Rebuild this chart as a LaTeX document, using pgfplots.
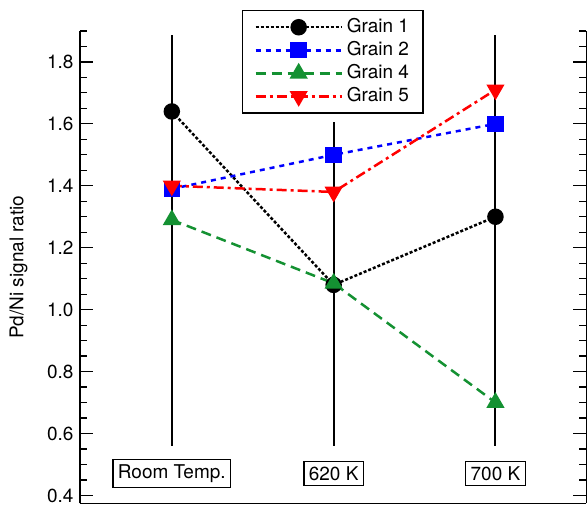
\documentclass[border=0pt]{standalone}
\usepackage{fontspec}
\setmainfont{TeX Gyre Heros}
\usepackage{pgfplots}
\pgfplotsset{compat=1.18}
\definecolor{gblue}{RGB}{0,0,255}
\definecolor{ggreen}{RGB}{20,145,50}
\definecolor{gred}{RGB}{255,0,0}
\newcommand{\fs}{\fontsize{19}{22}\selectfont}
\begin{document}
\fs
\begin{tikzpicture}
\begin{axis}[
  scale only axis, width=507pt, height=473pt,
  xmin=-0.568, xmax=2.562, ymin=0.374, ymax=1.9,
  axis x line=bottom, axis y line=box,
  axis line style={-, line width=1.2pt, black},
  xtick=\empty,
  ytick={0.4,0.6,0.8,1.0,1.2,1.4,1.6,1.8},
  minor ytick={0.45,0.5,0.55,0.65,0.7,0.75,0.85,0.9,0.95,1.05,1.1,1.15,1.25,1.3,1.35,1.45,1.5,1.55,1.65,1.7,1.75,1.85,1.9},
  yticklabel pos=left,
  /pgf/number format/fixed, /pgf/number format/fixed zerofill, /pgf/number format/precision=1,
  /pgf/number format/assume math mode=true,
  yticklabel style={font=\fs, xshift=0pt},
  major tick length=13pt, minor tick length=7pt,
  every tick/.style={line width=1.2pt, black},
  ylabel={Pd/Ni signal ratio},
  ylabel style={at={(axis description cs:-0.121,0.5)}, anchor=center, font=\fs},
  legend style={at={(0.3195,1.0444)}, anchor=north west, draw=black, line width=1.5pt, fill=white,
    font=\fs, inner xsep=12pt, inner ysep=6pt, row sep=2pt,
    /tikz/every odd column/.append style={column sep=2pt}},
  legend cell align=left,
  legend image code/.code={\draw[mark repeat=2, mark phase=2] plot coordinates {(0pt,0pt) (43pt,0pt) (86pt,0pt)};},
  clip=false,
]
\coordinate (O) at (rel axis cs:0,0);
% vertical guide lines
\addplot[black, line width=2pt, forget plot] coordinates {(0,0.561) (0,1.887)};
\addplot[black, line width=2pt, forget plot] coordinates {(1,0.561) (1,1.606)};
\addplot[black, line width=2pt, forget plot] coordinates {(2,0.561) (2,1.887)};
% data
\addplot[black, line width=2.5pt, dash pattern=on 3pt off 2pt, mark=*, mark size=7pt, mark options={solid, fill=black}]
  coordinates {(0,1.64) (1,1.08) (2,1.30)};
\addlegendentry{Grain 1}
\addplot[gblue, line width=2.5pt, dash pattern=on 5pt off 5pt, mark=square*, mark size=7pt, mark options={solid, fill=gblue}]
  coordinates {(0,1.39) (1,1.50) (2,1.60)};
\addlegendentry{Grain 2}
\addplot[ggreen, line width=2.5pt, dash pattern=on 10pt off 6pt, mark=triangle*, mark size=8pt, mark options={solid, fill=ggreen}]
  coordinates {(0,1.29) (1,1.085) (2,0.70)};
\addlegendentry{Grain 4}
\addplot[gred, line width=2.5pt, dash pattern=on 10pt off 4pt on 3pt off 4pt, mark=triangle*, mark size=8pt, mark options={solid, fill=gred, rotate=180}]
  coordinates {(0,1.40) (1,1.38) (2,1.71)};
\addlegendentry{Grain 5}
% category boxes
\node[draw=black, line width=1.5pt, fill=white, inner xsep=5pt, inner ysep=5pt] at (axis cs:0,0.471) {Room Temp.};
\node[draw=black, line width=1.5pt, fill=white, inner xsep=5pt, inner ysep=5pt] at (axis cs:1,0.471) {620 K};
\node[draw=black, line width=1.5pt, fill=white, inner xsep=5pt, inner ysep=5pt] at (axis cs:2,0.471) {700 K};
\end{axis}
\path (O) ++(-80pt,-2pt) rectangle ++(587pt,506pt);
\end{tikzpicture}
\end{document}
